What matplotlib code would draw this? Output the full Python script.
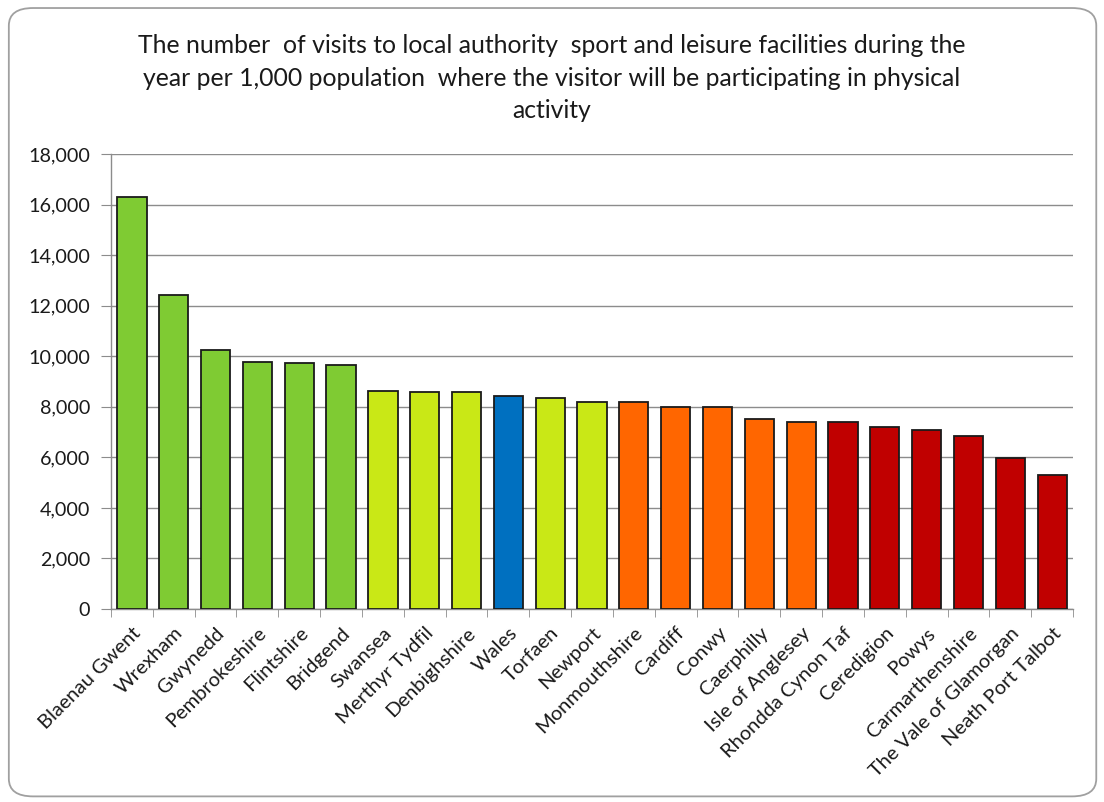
import matplotlib
matplotlib.use("Agg")
import matplotlib.pyplot as plt
from matplotlib.patches import FancyBboxPatch
from matplotlib.ticker import FuncFormatter, MultipleLocator, FixedLocator, NullFormatter

plt.rcParams['font.family'] = ['Lato', 'DejaVu Sans']

categories = ["Blaenau Gwent", "Wrexham", "Gwynedd", "Pembrokeshire", "Flintshire",
              "Bridgend", "Swansea", "Merthyr Tydfil", "Denbighshire", "Wales",
              "Torfaen", "Newport", "Monmouthshire", "Cardiff", "Conwy",
              "Caerphilly", "Isle of Anglesey", "Rhondda Cynon Taf", "Ceredigion",
              "Powys", "Carmarthenshire", "The Vale of Glamorgan", "Neath Port Talbot"]
values = [16310, 12410, 10250, 9790, 9725, 9650, 8640, 8580, 8580, 8445,
          8360, 8200, 8200, 8000, 8000, 7525, 7405, 7405, 7195, 7065, 6855, 5985, 5300]
groups = ["top", "top", "top", "top", "top", "top",
          "upper", "upper", "upper", "wales", "upper", "upper",
          "lower", "lower", "lower", "lower", "lower",
          "bottom", "bottom", "bottom", "bottom", "bottom", "bottom"]
group_colors = {"top": "#7FCB33", "upper": "#C9E816", "wales": "#0070C0",
                "lower": "#FF6600", "bottom": "#C00000"}

title = ("The number  of visits to local authority  sport and leisure facilities during the\n"
         "year per 1,000 population  where the visitor will be participating in physical\n"
         "activity")

fig = plt.figure(figsize=(11.04, 8.02), dpi=100)
border = FancyBboxPatch((0.008, 0.007), 0.985, 0.983, boxstyle="round,pad=0,rounding_size=0.022",
                        transform=fig.transFigure, facecolor="white", edgecolor="#A0A0A0",
                        linewidth=1.3, zorder=-5)
fig.patches.append(border)

ax = fig.add_axes([0.1005, 0.2406, 0.8715, 0.5674])
ax.set_zorder(2)
ax.set_facecolor("none")
x = list(range(len(categories)))
colors = [group_colors[g] for g in groups]
ax.bar(x, values, width=0.70, color=colors, edgecolor="#1a1a1a", linewidth=1.3, zorder=3)

ax.set_xlim(-0.5, len(categories) - 0.5)
ax.set_ylim(0, 18000)
ax.yaxis.set_major_locator(MultipleLocator(2000))
ax.yaxis.set_major_formatter(FuncFormatter(lambda v, p: f"{int(v):,}"))
ax.grid(axis="y", color="#8C8C8C", linewidth=1.0, zorder=0)

ax.set_xticks(x)
ax.set_xticklabels(categories, rotation=45, ha="right", va="top", rotation_mode="anchor",
                   fontsize=14.5, color="#1a1a1a")
ax.tick_params(axis="x", length=0, pad=11)
ax.xaxis.set_minor_locator(FixedLocator([i - 0.5 for i in range(len(categories) + 1)]))
ax.xaxis.set_minor_formatter(NullFormatter())
ax.tick_params(axis="x", which="minor", length=6, color="#8C8C8C", direction="out")
ax.tick_params(axis="y", length=7, color="#8C8C8C", labelsize=14.2, pad=8,
               labelcolor="#1a1a1a")

for side in ["top", "right"]:
    ax.spines[side].set_visible(False)
for side in ["left", "bottom"]:
    ax.spines[side].set_color("#8C8C8C")
    ax.spines[side].set_linewidth(1.0)

fig.text(0.5, 0.957, title, ha="center", va="top", fontsize=17.8, linespacing=1.5,
         color="#1a1a1a")

fig.savefig("out.png", dpi=100)
